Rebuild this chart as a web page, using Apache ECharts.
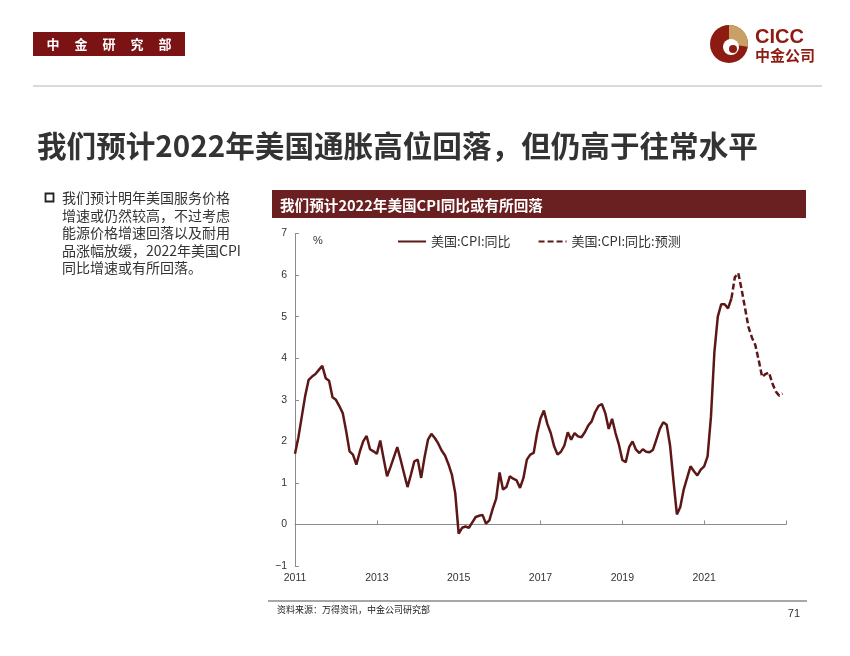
<!DOCTYPE html>
<html>
<head>
<meta charset="utf-8">
<script src="https://cdn.jsdelivr.net/npm/echarts@6/dist/echarts.min.js"></script>
<style>
html,body{margin:0;padding:0;background:#fff;}
#main{width:850px;height:656px;}
</style>
</head>
<body>
<div id="main"></div>
<script>
// ---- Data (US CPI YoY, %, monthly from 2011-01) ----
const startYear = 2011;
const cpi2011 = [1.70, 2.10, 2.60, 3.10, 3.48, 3.56, 3.62, 3.72, 3.82, 3.52, 3.46, 3.06];
const cpi2012 = [3.00, 2.85, 2.68, 2.25, 1.76, 1.68, 1.44, 1.75, 2.00, 2.13, 1.81, 1.76];
const cpi2013 = [1.70, 2.02, 1.58, 1.16, 1.38, 1.62, 1.86, 1.55, 1.22, 0.90, 1.20, 1.52];
const cpi2014 = [1.56, 1.12, 1.62, 2.04, 2.18, 2.08, 1.95, 1.78, 1.66, 1.45, 1.20, 0.75];
const cpi2015 = [-0.22, -0.08, -0.05, -0.08, 0.05, 0.18, 0.21, 0.23, 0.02, 0.10, 0.38, 0.62];
const cpi2016 = [1.25, 0.84, 0.90, 1.16, 1.10, 1.06, 0.88, 1.12, 1.56, 1.68, 1.72, 2.20];
const cpi2017 = [2.55, 2.74, 2.42, 2.20, 1.88, 1.68, 1.75, 1.90, 2.22, 2.04, 2.20, 2.12];
const cpi2018 = [2.10, 2.22, 2.38, 2.48, 2.70, 2.85, 2.90, 2.68, 2.30, 2.54, 2.20, 1.92];
const cpi2019 = [1.55, 1.50, 1.86, 2.00, 1.80, 1.72, 1.81, 1.75, 1.74, 1.80, 2.05, 2.30];
const cpi2020 = [2.46, 2.40, 1.90, 1.05, 0.24, 0.42, 0.84, 1.12, 1.40, 1.28, 1.18, 1.32];
const cpi2021 = [1.40, 1.64, 2.60, 4.15, 5.00, 5.30, 5.30, 5.20, 5.44];
// forecast starts at 2021-09 (month index 128)
const forecastStart = 128;
const cpiForecast = [5.44, 5.95, 6.05, 5.65, 5.20, 4.75, 4.50, 4.32, 3.95, 3.55, 3.62, 3.66, 3.40, 3.20, 3.10, 3.15];

const yTicks = [-1, 0, 1, 2, 3, 4, 5, 6, 7];
const xTickLabels = ['2011', '2013', '2015', '2017', '2019', '2021', ''];

const legendNames = ['美国:CPI:同比', '美国:CPI:同比:预测'];

const bulletLines = [
  '我们预计明年美国服务价格',
  '增速或仍然较高，不过考虑',
  '能源价格增速回落以及耐用',
  '品涨幅放缓，2022年美国CPI',
  '同比增速或有所回落。'
];

// ---- Build series ----
const actual = [].concat(cpi2011, cpi2012, cpi2013, cpi2014, cpi2015, cpi2016,
  cpi2017, cpi2018, cpi2019, cpi2020, cpi2021);
const actualData = actual.map((v, i) => [i, v]);
const forecastData = cpiForecast.map((v, i) => [forecastStart + i, v]);

const lineColor = '#5e1717';
const cjk = '"Noto Sans CJK SC", "Noto Sans", sans-serif';
const latin = '"Liberation Sans", Arial, sans-serif';

const chart = echarts.init(document.getElementById('main'), null, {renderer: 'canvas'});

const graphics = [];
// header box
graphics.push({type: 'rect', shape: {x: 33, y: 32, width: 152, height: 24}, style: {fill: '#7b1214'}, z: 10});
['中', '金', '研', '究', '部'].forEach((c, i) => {
  graphics.push({type: 'text', x: 53 + i * 28, y: 44, style: {text: c, fill: '#fff', font: 'bold 13px ' + cjk, textAlign: 'center', textVerticalAlign: 'middle'}, z: 11});
});
// logo
graphics.push({type: 'circle', shape: {cx: 729, cy: 44, r: 19}, style: {fill: '#8e1b12'}, z: 10});
graphics.push({type: 'sector', shape: {cx: 729, cy: 44, r: 19, r0: 0, startAngle: -Math.PI / 2, endAngle: 0.15}, style: {fill: '#c9a066'}, z: 11});
graphics.push({type: 'circle', shape: {cx: 731, cy: 47, r: 8}, style: {fill: '#fff'}, z: 12});
graphics.push({type: 'circle', shape: {cx: 733, cy: 49, r: 4}, style: {fill: '#8e1b12'}, z: 13});
graphics.push({type: 'text', x: 755, y: 37, style: {text: 'CICC', fill: '#8e1b12', font: 'bold 20px ' + latin, textVerticalAlign: 'middle'}, z: 10});
graphics.push({type: 'text', x: 755, y: 55, style: {text: '中金公司', fill: '#8e1b12', font: 'bold 15px ' + cjk, textVerticalAlign: 'middle'}, z: 10});
// separator
graphics.push({type: 'line', shape: {x1: 33, y1: 86, x2: 822, y2: 86}, style: {stroke: '#d9d9d9', lineWidth: 2}, z: 10});
// title
graphics.push({type: 'text', x: 37, y: 146, style: {text: '我们预计2022年美国通胀高位回落，但仍高于往常水平', fill: '#333', font: 'bold 29.6px ' + cjk, textVerticalAlign: 'middle'}, z: 10});
// bullet
graphics.push({type: 'rect', shape: {x: 45.5, y: 193.5, width: 8, height: 8}, style: {fill: 'none', stroke: '#222', lineWidth: 1.8}, z: 10});
bulletLines.forEach((t, i) => {
  graphics.push({type: 'text', x: 62, y: 198 + i * 17.5, style: {text: t, fill: '#333', font: '14px ' + cjk, textVerticalAlign: 'middle'}, z: 10});
});
// chart title bar
graphics.push({type: 'rect', shape: {x: 272, y: 190, width: 534, height: 28}, style: {fill: '#6a1f20'}, z: 10});
graphics.push({type: 'text', x: 280, y: 205, style: {text: '我们预计2022年美国CPI同比或有所回落', fill: '#fff', font: 'bold 14.6px ' + cjk, textVerticalAlign: 'middle'}, z: 11});
// unit
graphics.push({type: 'text', x: 313, y: 241, style: {text: '%', fill: '#333', font: '11px ' + latin, textVerticalAlign: 'middle'}, z: 10});
// footer
graphics.push({type: 'line', shape: {x1: 268, y1: 601, x2: 807, y2: 601}, style: {stroke: '#8a8a8a', lineWidth: 1.5}, z: 10});
graphics.push({type: 'text', x: 277, y: 610, style: {text: '资料来源：万得资讯，中金公司研究部', fill: '#222', font: '9px ' + cjk, textVerticalAlign: 'middle'}, z: 10});
graphics.push({type: 'text', x: 800, y: 614, style: {text: '71', fill: '#333', font: '11px ' + latin, textAlign: 'right', textVerticalAlign: 'middle'}, z: 10});

const xCommon = {type: 'value', min: 0, max: 144, interval: 24, splitLine: {show: false}};

chart.setOption({
  animation: false,
  backgroundColor: '#fff',
  grid: {left: 295, right: 64, top: 233.6, bottom: 90, containLabel: false},
  legend: {
    left: 397, top: 235, padding: 0,
    itemWidth: 28, itemHeight: 12, itemGap: 27,
    itemStyle: {opacity: 0},
    textStyle: {fontSize: 13, color: '#333', fontFamily: cjk},
    data: legendNames
  },
  xAxis: [
    Object.assign({}, xCommon, {
      position: 'bottom',
      axisLine: {show: false, onZero: false},
      axisTick: {show: false},
      axisLabel: {
        margin: 7, color: '#333', fontSize: 10.5, fontFamily: latin,
        formatter: v => xTickLabels[Math.round(v / 24)]
      }
    }),
    Object.assign({}, xCommon, {
      position: 'bottom',
      axisLine: {show: true, onZero: true, lineStyle: {color: '#8c8c8c', width: 1}},
      axisTick: {show: true, inside: true, length: 4, lineStyle: {color: '#8c8c8c'}},
      axisLabel: {show: false}
    })
  ],
  yAxis: {
    type: 'value', min: yTicks[0], max: yTicks[yTicks.length - 1], interval: 1,
    splitLine: {show: false},
    axisLine: {show: true, onZero: false, lineStyle: {color: '#8c8c8c', width: 1}},
    axisTick: {show: true, inside: true, length: 4, lineStyle: {color: '#8c8c8c'}},
    axisLabel: {margin: 8, color: '#333', fontSize: 10.5, fontFamily: latin,
      formatter: v => (v < 0 ? '\u2212' + Math.abs(v) : String(v))}
  },
  series: [
    {
      name: legendNames[0], type: 'line', xAxisIndex: 0, data: actualData,
      symbol: 'none', lineStyle: {color: lineColor, width: 2.5}, itemStyle: {color: lineColor}, z: 5
    },
    {
      name: legendNames[1], type: 'line', xAxisIndex: 0, data: forecastData,
      symbol: 'none', lineStyle: {color: lineColor, width: 2.5, type: [6, 3]}, itemStyle: {color: lineColor}, z: 5
    }
  ],
  graphic: graphics
});
</script>
</body>
</html>
